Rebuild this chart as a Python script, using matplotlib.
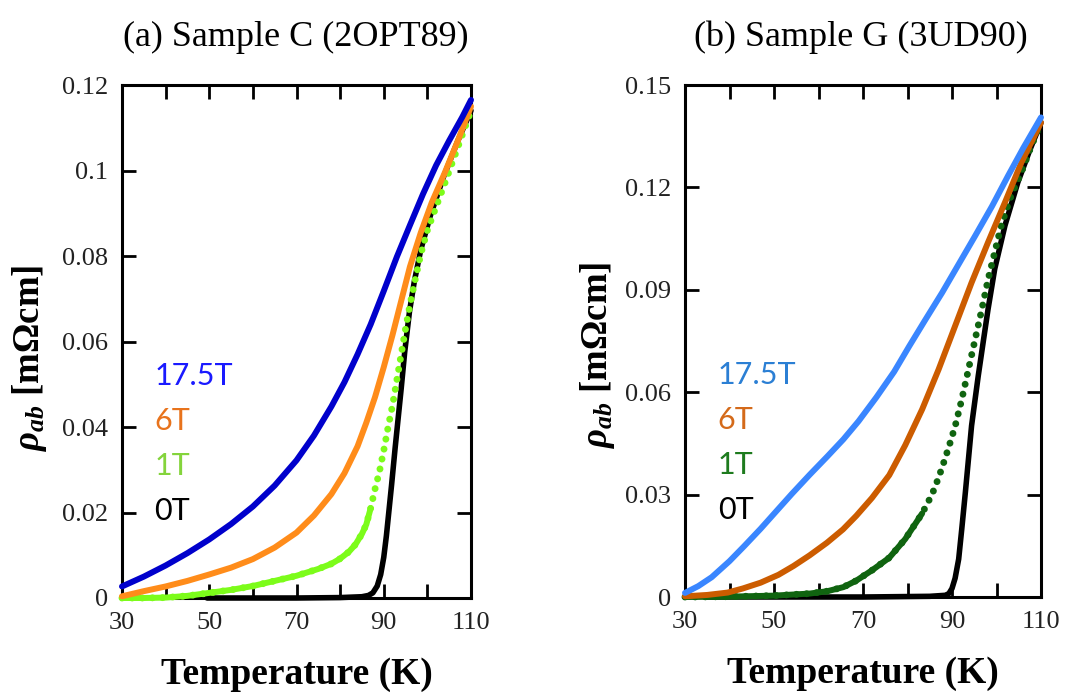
import numpy as np
import matplotlib
matplotlib.use("Agg")
import matplotlib.pyplot as plt
from matplotlib.ticker import FixedLocator, FuncFormatter

# ----------------------------
# Resistivity data, rho_ab (mOhm cm) vs T (K)
# ----------------------------
# Sample C (2OPT89)
c_T_0 = [49.5, 60, 70, 80, 85, 86.5, 87.5, 88.5, 89.3, 90, 90.6, 91.2, 91.8, 92.6, 93.3, 94, 94.8, 95.9, 97, 98.5,
         100.7, 103.7, 107, 110]
c_r_0 = [0, 0, 0, 0.0001, 0.0003, 0.0006, 0.0012, 0.0028, 0.0055, 0.0095, 0.0145, 0.0205, 0.0265, 0.0350, 0.0420,
         0.0490, 0.0575, 0.0670, 0.0740, 0.0815, 0.0895, 0.0985, 0.1070, 0.1140]
c_T_1 = [30, 35, 40, 45, 50, 55, 60, 65, 70, 75, 78, 80, 82, 83.5, 85, 86, 87, 88, 89, 90, 91, 92, 93, 94, 95, 96,
         97, 98.5, 100, 102, 104, 107, 110]
c_r_1 = [0, 0, 0.0001, 0.0005, 0.0012, 0.0019, 0.0028, 0.0040, 0.0052, 0.0068, 0.0080, 0.0092, 0.0108, 0.0125,
         0.0150, 0.0172, 0.0210, 0.0255, 0.0295, 0.0345, 0.0400, 0.0450, 0.0510, 0.0570, 0.0630, 0.0685, 0.0735,
         0.0805, 0.0860, 0.0915, 0.0970, 0.1055, 0.1140]
c_T_6 = [30, 35, 40, 45, 50, 55, 60, 65, 70, 74, 78, 81, 84, 86, 88, 90, 92, 94, 96, 98.5, 101, 104, 107, 110]
c_r_6 = [0.0004, 0.0016, 0.0027, 0.0040, 0.0055, 0.0071, 0.0091, 0.0118, 0.0153, 0.0193, 0.0243, 0.0292, 0.0355,
         0.0410, 0.0470, 0.0540, 0.0615, 0.0695, 0.0775, 0.0855, 0.0925, 0.0995, 0.1070, 0.1150]
c_T_17 = [30, 35, 40, 45, 50, 55, 60, 65, 70, 74, 78, 81, 84, 87, 90, 93, 96, 99, 102, 105, 108, 110]
c_r_17 = [0.0027, 0.0050, 0.0076, 0.0105, 0.0137, 0.0173, 0.0214, 0.0263, 0.0322, 0.0380, 0.0448, 0.0505, 0.0570,
          0.0640, 0.0718, 0.0798, 0.0872, 0.0945, 0.1012, 0.1070, 0.1125, 0.1165]

# Sample G (3UD90)
g_T_0 = [35, 50, 70, 85, 88.5, 89.3, 90, 90.7, 91.5, 92.2, 93, 94.4, 95.9, 97, 98.1, 99.6, 101.9, 104.8, 107.5, 110]
g_r_0 = [0, 0, 0, 0.0002, 0.0005, 0.0010, 0.0025, 0.0055, 0.0111, 0.0200, 0.0306, 0.0502, 0.0648, 0.0746, 0.0843,
         0.0961, 0.1088, 0.1215, 0.1310, 0.1390]
g_T_1 = [30, 40, 50, 58, 62, 65.6, 68.5, 72, 75.9, 79.5, 83.3, 85.5, 87, 88.3, 89.3, 90.7, 92.2, 93.7, 95.2, 96.7,
         98.1, 99.6, 101.1, 103.3, 105.6, 107.5, 110]
g_r_1 = [0, 0.0001, 0.0004, 0.0010, 0.0017, 0.0029, 0.0048, 0.0078, 0.0115, 0.0170, 0.0245, 0.0300, 0.0350, 0.0400,
         0.0440, 0.0500, 0.0579, 0.0667, 0.0755, 0.0843, 0.0930, 0.1010, 0.1090, 0.1176, 0.1244, 0.1310, 0.1390]
g_T_6 = [30, 35, 39.6, 43, 47, 51, 54.4, 58, 61.9, 65.5, 68.5, 72, 75.9, 79.5, 83.3, 87, 90.7, 94.4, 98.1, 101.9,
         105.6, 110]
g_r_6 = [0.0002, 0.0006, 0.0013, 0.0025, 0.0042, 0.0065, 0.0091, 0.0122, 0.0159, 0.0198, 0.0238, 0.0290, 0.0357,
         0.0445, 0.0550, 0.0667, 0.0794, 0.0921, 0.1039, 0.1156, 0.1273, 0.1390]
g_T_17 = [30, 33, 36, 40, 43.3, 47, 50.7, 54, 58, 62, 65.6, 69, 73, 77, 80.4, 84, 87.8, 91.5, 95.2, 99, 102.6, 106, 110]
g_r_17 = [0.0012, 0.0032, 0.0058, 0.0105, 0.0149, 0.0200, 0.0254, 0.0302, 0.0358, 0.0412, 0.0462, 0.0515, 0.0585,
          0.0660, 0.0735, 0.0812, 0.0892, 0.0975, 0.1058, 0.1145, 0.1234, 0.1315, 0.1405]

field_labels = ["17.5T", "6T", "1T", "0T"]

# ----------------------------
# Fonts
# ----------------------------
plt.rcParams["font.family"] = ["Liberation Serif", "DejaVu Serif"]
plt.rcParams["mathtext.fontset"] = "custom"
plt.rcParams["mathtext.it"] = "Liberation Serif:italic:bold"
plt.rcParams["mathtext.rm"] = "Liberation Serif:bold"
plt.rcParams["mathtext.bf"] = "Liberation Serif:bold"

W, H = 1070, 693
fig = plt.figure(figsize=(W / 100, H / 100), dpi=100)
ax_c = fig.add_axes([122 / W, 1 - 598 / H, 349 / W, 513 / H])
ax_g = fig.add_axes([685 / W, 1 - 597 / H, 356 / W, 512 / H])


def draw_panel(ax, data, curve_colors, text_colors, ymax, ystep, dot_from):
    (T0, r0), (T1, r1), (T6, r6), (T17, r17) = data

    # 0T first, then 1T, 6T and 17.5T on top
    ax.plot(T0, r0, color=curve_colors[3], lw=4.0, solid_capstyle="round", solid_joinstyle="round",
            clip_on=False, zorder=2)

    # 1T: continuous at low rho, dotted on the steep part
    T1 = np.asarray(T1)
    r1 = np.asarray(r1)
    n = int(np.argmax(r1 > dot_from))
    ax.plot(T1[:n + 1], r1[:n + 1], color=curve_colors[2], lw=4.3, solid_capstyle="round",
            solid_joinstyle="round", clip_on=False, zorder=3)
    ax.plot(T1, r1, color=curve_colors[2], lw=5.0, linestyle=(0, (0.01, 1.45)),
            dash_capstyle="round", clip_on=False, zorder=3)

    ax.plot(T6, r6, color=curve_colors[1], lw=4.3, solid_capstyle="round", solid_joinstyle="round",
            clip_on=False, zorder=4)
    ax.plot(T17, r17, color=curve_colors[0], lw=4.3, solid_capstyle="round", solid_joinstyle="round",
            clip_on=False, zorder=5)

    ax.set_xlim(30, 110)
    ax.set_ylim(0, ymax)
    ax.xaxis.set_major_locator(FixedLocator([30, 50, 70, 90, 110]))
    ax.xaxis.set_minor_locator(FixedLocator([40, 60, 80, 100]))
    ax.yaxis.set_major_locator(FixedLocator(np.arange(0, ymax + ystep / 2, ystep)))
    ax.yaxis.set_major_formatter(FuncFormatter(lambda v, _: f"{v:g}"))

    ax.tick_params(which="both", direction="in", top=True, right=True, length=10, width=2,
                   labelsize=19, labelcolor="#222222", pad=10)
    for sp in ax.spines.values():
        sp.set_linewidth(2.2)

    ax.set_xlabel("Temperature (K)", fontsize=27, fontweight="bold", va="center")
    ax.xaxis.set_label_coords(0.5, -0.150)

    for i, lab in enumerate(field_labels):
        ax.text(0.092, 0.433 - 0.088 * i, lab, transform=ax.transAxes, fontsize=22,
                family="Lato", color=text_colors[i], ha="left", va="center")


draw_panel(ax_c,
           [(c_T_0, c_r_0), (c_T_1, c_r_1), (c_T_6, c_r_6), (c_T_17, c_r_17)],
           ["#0000CC", "#FF8C1A", "#7CFC1A", "#000000"],
           ["#1A1AFF", "#E8731C", "#84D43C", "#000000"],
           0.12, 0.02, 0.018)
draw_panel(ax_g,
           [(g_T_0, g_r_0), (g_T_1, g_r_1), (g_T_6, g_r_6), (g_T_17, g_r_17)],
           ["#3A86FF", "#CC5C00", "#106410", "#000000"],
           ["#2B7FD4", "#D46A1A", "#1E7B1E", "#000000"],
           0.15, 0.03, 0.022)

ylab = r"$\rho_{ab}$ [m$\Omega$cm]"
ax_c.set_ylabel(ylab, fontsize=26.5, fontweight="bold", va="center")
ax_c.yaxis.set_label_coords(-0.266, 0.468)
ax_g.set_ylabel(ylab, fontsize=26.5, fontweight="bold", va="center")
ax_g.yaxis.set_label_coords(-0.247, 0.473)

fig.text(296 / W, 1 - 37 / H, "(a) Sample C (2OPT89)", fontsize=26, ha="center", va="center")
fig.text(861 / W, 1 - 37 / H, "(b) Sample G (3UD90)", fontsize=26, ha="center", va="center")

fig.savefig("out.png", dpi=100)
